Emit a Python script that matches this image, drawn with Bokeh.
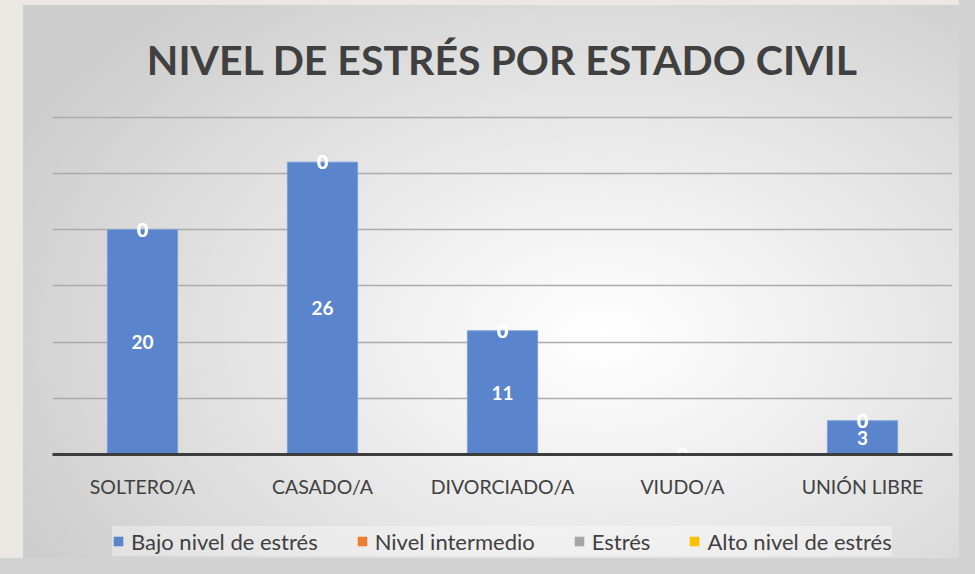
from bokeh.plotting import figure
from bokeh.layouts import column
from bokeh.models import ColumnDataSource, Range1d, FixedTicker, Legend, LegendItem, GlobalInlineStyleSheet
from bokeh.core.properties import value
from bokeh.embed import file_html
from bokeh.resources import INLINE

# ---- data ----
categories = ["SOLTERO/A", "CASADO/A", "DIVORCIADO/A", "VIUDO/A", "UNIÓN LIBRE"]
series_names = ["Bajo nivel de estrés", "Nivel intermedio", "Estrés", "Alto nivel de estrés"]
bajo = [20, 26, 11, 0, 3]
intermedio = [0, 0, 0, 0, 0]
estres = [0, 0, 0, 0, 0]
alto = [0, 0, 0, 0, 0]
y_ticks = [5, 10, 15, 20, 25, 30]
series_colors = ["#5a85cd", "#ed7d31", "#a5a5a5", "#ffc000"]
title_text = "NIVEL DE ESTRÉS POR ESTADO CIVIL"

FONT = "Lato"
TXT = "#404040"

keys = ["bajo", "intermedio", "estres", "alto"]
data = dict(cat=categories, bajo=bajo, intermedio=intermedio, estres=estres, alto=alto)
source = ColumnDataSource(data)

p = figure(x_range=categories, y_range=Range1d(0, 30.15), width=959, height=500,
           output_backend="svg", toolbar_location=None,
           min_border_left=52, min_border_right=7, min_border_top=115, min_border_bottom=43)

p.background_fill_color = None
p.border_fill_color = None
p.outline_line_color = None

# title
p.title.text = title_text
p.title.align = "center"
p.title.text_font = FONT
p.title.text_font_style = "bold"
p.title.text_font_size = "41px"
p.title.text_color = TXT
p.title.standoff = 64

# bars
renderers = p.vbar_stack(keys, x="cat", width=0.39, source=source,
                         fill_color=series_colors,
                         line_color=["#7a9fdc", None, None, None],
                         line_width=1)

# data labels
cum = [0] * len(categories)
for k in keys:
    vals = data[k]
    if k == "bajo":
        ys = [c + v / 2 for c, v in zip(cum, vals)]
    else:
        ys = [c + v for c, v in zip(cum, vals)]
    cum = [c + v for c, v in zip(cum, vals)]
    lab_src = ColumnDataSource(dict(x=categories, y=ys, t=[str(v) for v in vals]))
    p.text(x="x", y="y", text="t", source=lab_src, text_align="center",
           text_baseline="middle", text_color="white", text_font=value(FONT),
           text_font_style="bold", text_font_size="19px")

# axes / grid
p.yaxis.visible = False
p.xaxis.axis_line_color = "#3d3d3d"
p.xaxis.axis_line_width = 3
p.xaxis.major_tick_line_color = None
p.xaxis.minor_tick_line_color = None
p.xaxis.major_label_text_font = FONT
p.xaxis.major_label_text_font_size = "19.5px"
p.xaxis.major_label_text_color = TXT
p.xaxis.major_label_standoff = 14
p.xgrid.visible = False
p.ygrid.ticker = FixedTicker(ticks=y_ticks)
p.ygrid.grid_line_color = "#ababab"
p.ygrid.grid_line_width = 1.5

# legend strip (separate figure so the legend is not clipped by the main frame)
lg = figure(width=959, height=58, output_backend="svg", toolbar_location=None, title=None,
            x_range=categories, y_range=Range1d(-2, -1),
            min_border_left=0, min_border_right=0, min_border_top=0, min_border_bottom=0)
lg.axis.visible = False
lg.grid.visible = False
lg.outline_line_color = None
lg.background_fill_color = None
lg.border_fill_color = None
leg_renderers = lg.vbar_stack(keys, x="cat", width=0.39, source=source,
                              fill_color=series_colors, line_color=None)
for r in leg_renderers:
    r.visible = False
items = [LegendItem(label=n, renderers=[r]) for n, r in zip(series_names, leg_renderers)]
legend = Legend(items=items, orientation="horizontal", location=(60, 2),
                glyph_width=12, glyph_height=12, label_standoff=7, spacing=38,
                padding=20, margin=0, label_height=30,
                label_text_font=FONT, label_text_font_size="22px", label_text_color=TXT,
                background_fill_color="#ffffff", background_fill_alpha=0.35,
                border_line_color=None)
lg.add_layout(legend, "center")

layout = column(p, lg, spacing=0, width=959, height=558)
layout.styles = {
    "background": "radial-gradient(ellipse 70% 80% at 62% 60%, #ffffff 0%, #f1f1f1 30%, #cdcdcd 100%) 23px 5px / 936px 553px no-repeat, #ebe8e3"
}
layout.stylesheets = [GlobalInlineStyleSheet(css="html, body { background: #d2d2d2; }")]

open("out.html", "w").write(file_html(layout, INLINE))
